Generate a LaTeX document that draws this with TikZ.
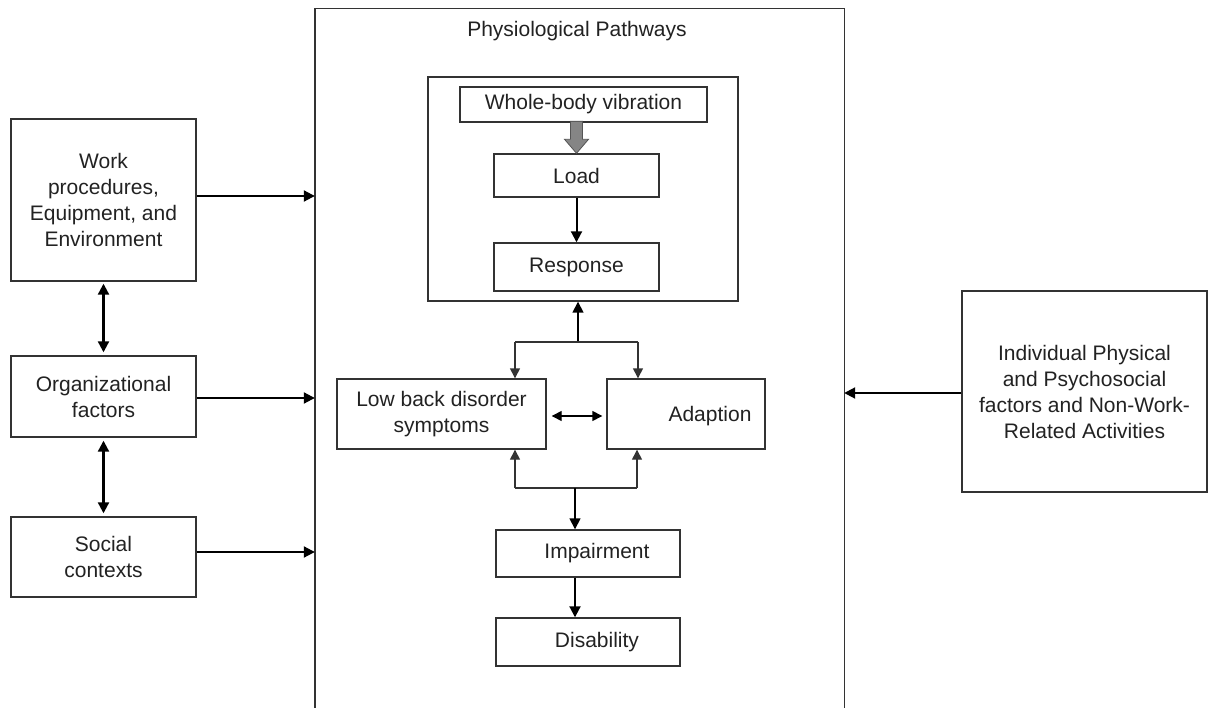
\documentclass[tikz,border=0pt]{standalone}
\usepackage{fontspec}
\setmainfont{Liberation Sans}
\usetikzlibrary{arrows.meta,calc}
\definecolor{linec}{HTML}{333333}
\definecolor{textc}{HTML}{222222}
\definecolor{blockfill}{HTML}{858585}
\definecolor{blockline}{HTML}{555555}
\begin{document}
\begin{tikzpicture}[x=1pt,y=-1pt,
  every node/.style={text=textc, font=\fontsize{21}{26}\selectfont},
  box/.style={draw=linec, line width=1.4pt, inner sep=0pt, align=center, fill=white},
  lbl/.style={inner sep=0pt, align=center},
  arr/.style={draw=black, line width=2pt, -{Triangle[length=11pt,width=11pt]}},
  darr/.style={draw=black, line width=2.2pt, {Triangle[length=11pt,width=11pt]}-{Triangle[length=11pt,width=11pt]}},
  tarr/.style={draw=linec, line width=1.4pt, -{Triangle[length=10pt,width=10pt]}},
  tdarr/.style={draw=black, line width=1.4pt, {Triangle[length=10pt,width=10pt]}-{Triangle[length=10pt,width=10pt]}},
  tline/.style={draw=linec, line width=1.4pt}]
\useasboundingbox[fill=white] (0,0) rectangle (1209,708);

% outer pathway frame (open at the bottom edge)
\node[inner sep=0pt, minimum width=529, minimum height=699] (big) at (579.5,358.5) {};
\draw[linec, line width=1.4pt] (big.south west) -- (big.north west) -- (big.north east) -- (big.south east);
\node[lbl] (title) at (577,31) {Physiological Pathways};

% inner box
\node[box, minimum width=310, minimum height=224] (inner) at (583,189) {};
\node[box, minimum width=247, minimum height=35] (wbv) at (583.5,104.5) {Whole-body vibration};
\node[box, minimum width=165, minimum height=43] (load) at (576.5,175.5) {Load};
\node[box, minimum width=165, minimum height=48] (resp) at (576.5,267) {Response};

% middle boxes
\node[box, minimum width=209, minimum height=70] (lb) at (441.5,414) {Low back disorder\\symptoms};
\node[box, minimum width=158, minimum height=70] (adapt) at (686,414) {};
\node[lbl] (adaptt) at (710,416) {Adaption};
\node[box, minimum width=184, minimum height=47] (imp) at (588,553.5) {};
\node[lbl] (impt) at (597,553.5) {Impairment};
\node[box, minimum width=184, minimum height=48] (dis) at (588,642) {};
\node[lbl] (dist) at (597,642) {Disability};

% left boxes
\node[box, minimum width=185, minimum height=162] (work) at (103.5,200) {Work\\procedures,\\Equipment, and\\Environment};
\node[box, minimum width=185, minimum height=81] (org) at (103.5,396.5) {Organizational\\factors};
\node[box, minimum width=185, minimum height=80] (soc) at (103.5,557) {Social\\contexts};

% right box
\node[box, minimum width=245, minimum height=201] (indiv) at (1084.5,391.5) {Individual Physical\\and Psychosocial\\factors and Non-Work-\\Related Activities};

% grey block arrow
\draw[fill=blockfill, draw=blockline, line width=0.8pt]
  (load.north) -- ($(load.north)+(12,-14)$) -- ($(load.north)+(6,-14)$) -- ($(load.north)+(6,-32)$)
  -- ($(load.north)+(-6,-32)$) -- ($(load.north)+(-6,-14)$) -- ($(load.north)+(-12,-14)$) -- cycle;

\draw[arr] (load.south) -- (resp.north);

% fork above
\coordinate (ft) at (578,342);
\coordinate (ftl) at (515,342);
\coordinate (ftr) at (638,342);
\draw[arr, line width=1.6pt] (ft) -- (ft |- inner.south);
\draw[tline] (ftl) -- (ftr);
\draw[tarr] (ftl) -- (ftl |- lb.north);
\draw[tarr] (ftr) -- (ftr |- adapt.north);

\draw[tdarr] ([xshift=5pt,yshift=-2pt]lb.east) -- ([xshift=-4pt,yshift=-2pt]adapt.west);

% fork below
\coordinate (fb) at (575,488);
\coordinate (fbl) at (515,488);
\coordinate (fbr) at (637,488);
\draw[tline] (fbl) -- (fbr);
\draw[tarr] (fbl) -- (fbl |- lb.south);
\draw[tarr] (fbr) -- (fbr |- adapt.south);
\draw[arr, line width=1.6pt] (fb) -- (fb |- imp.north);
\draw[arr] (fb |- imp.south) -- (fb |- dis.north);

% left side
\draw[arr] ([yshift=4pt]work.east) -- ([yshift=4pt]work.east -| big.west);
\draw[arr] ([yshift=-1.5pt]org.east) -- ([yshift=-1.5pt]org.east -| big.west);
\draw[arr] ([yshift=5pt]soc.east) -- ([yshift=5pt]soc.east -| big.west);
\draw[darr] ([yshift=-2pt]work.south) -- ([yshift=3pt]org.north);
\draw[darr] ([yshift=-3pt]org.south) -- ([yshift=3pt]soc.north);

% right side
\draw[arr] ([yshift=-1.5pt]indiv.west) -- ([yshift=-1.5pt]indiv.west -| big.east);
\end{tikzpicture}
\end{document}
